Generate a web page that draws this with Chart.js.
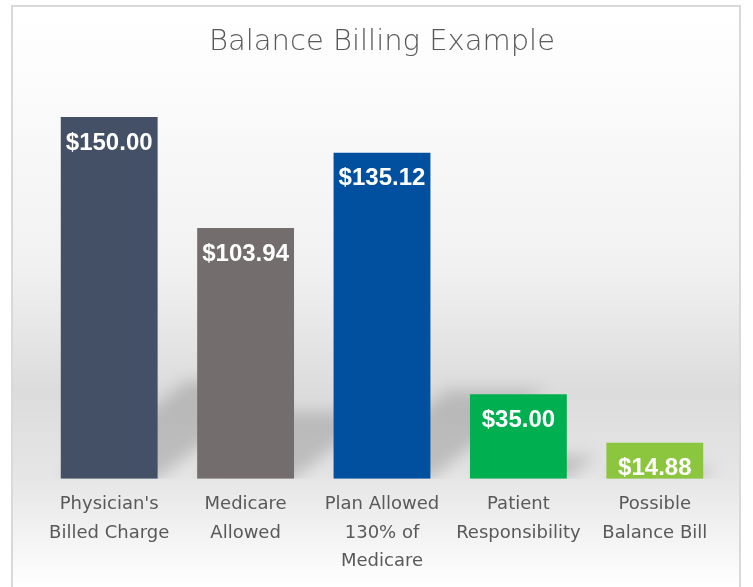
<!DOCTYPE html>
<html>
<head>
<meta charset="utf-8">
<script src="https://cdn.jsdelivr.net/npm/chart.js@4/dist/chart.umd.min.js"></script>
<style>
  html, body { margin: 0; padding: 0; background: #fff; }
  #wrap { width: 753px; height: 587px; }
</style>
</head>
<body>
<div id="wrap"><canvas id="billingChart" width="753" height="587"></canvas></div>
<script>
// chart data
var categories = [
  ["Physician's", "Billed Charge"],
  ["Medicare", "Allowed"],
  ["Plan Allowed", "130% of", "Medicare"],
  ["Patient", "Responsibility"],
  ["Possible", "Balance Bill"]
];
var amounts = [150.00, 103.94, 135.12, 35.00, 14.88];
var barColors = ['#435066', '#736e6d', '#00509f', '#00b050', '#8cc63f'];

// background panel with the soft grey "floor" and frame
var panelBg = {
  id: 'panelBg',
  beforeDraw: function (chart) {
    var ctx = chart.ctx;
    var base = chart.scales.y.getPixelForValue(0);
    ctx.save();
    var g = ctx.createLinearGradient(0, 6, 0, chart.height);
    g.addColorStop(0, '#ffffff');
    g.addColorStop(0.15, '#fbfbfb');
    g.addColorStop(0.45, '#f1f1f1');
    g.addColorStop((base - 90) / chart.height, '#dcdcdc');
    g.addColorStop(base / chart.height, '#e6e6e6');
    g.addColorStop(1, '#ffffff');
    ctx.fillStyle = g;
    ctx.fillRect(12, 6, 728, chart.height);
    ctx.strokeStyle = '#d9d9d9';
    ctx.lineWidth = 2;
    ctx.strokeRect(12, 6, 728, chart.height + 10);
    ctx.restore();
  },
  beforeDatasetsDraw: function (chart) {
    // cast shadows behind the bars
    var ctx = chart.ctx;
    var base = chart.scales.y.getPixelForValue(0);
    ctx.save();
    ctx.beginPath();
    ctx.rect(0, 0, chart.width, base);
    ctx.clip();
    ctx.filter = 'blur(8px)';
    ctx.fillStyle = 'rgba(100,100,100,0.3)';
    chart.getDatasetMeta(0).data.forEach(function (bar) {
      var h = base - bar.y;
      var x1 = bar.x - bar.width / 2, x2 = bar.x + bar.width / 2;
      ctx.beginPath();
      ctx.moveTo(x1, base);
      ctx.lineTo(x2, base);
      ctx.lineTo(x2 + h * 0.35, base - h * 0.27);
      ctx.lineTo(x1 + h * 0.35, base - h * 0.27);
      ctx.closePath();
      ctx.fill();
    });
    ctx.restore();
  },
  afterDatasetsDraw: function (chart) {
    var ctx = chart.ctx;
    ctx.save();
    ctx.fillStyle = '#ffffff';
    ctx.font = 'bold 24px "Liberation Sans", Arial, sans-serif';
    ctx.textAlign = 'center';
    ctx.textBaseline = 'middle';
    chart.getDatasetMeta(0).data.forEach(function (bar, i) {
      ctx.fillText('$' + amounts[i].toFixed(2), bar.x, bar.y + 26);
    });
    ctx.restore();
  }
};

new Chart(document.getElementById('billingChart'), {
  type: 'bar',
  data: {
    labels: categories,
    datasets: [{
      data: amounts,
      backgroundColor: barColors,
      borderWidth: 0,
      barPercentage: 0.71,
      categoryPercentage: 1.0
    }]
  },
  options: {
    responsive: false,
    animation: false,
    layout: { padding: { top: 10, left: 41, right: 30, bottom: 8 } },
    plugins: {
      legend: { display: false },
      tooltip: { enabled: false },
      title: {
        display: true,
        text: 'Balance Billing Example',
        color: '#595959',
        font: { family: '"DejaVu Sans", sans-serif', size: 29, weight: 300 },
        padding: { top: 15, bottom: 33 }
      }
    },
    scales: {
      y: { display: false, min: 0, max: 160 },
      x: {
        grid: { display: false },
        border: { display: false },
        ticks: {
          color: '#595959',
          padding: 4,
          maxRotation: 0,
          font: { family: '"DejaVu Sans", sans-serif', size: 18, lineHeight: 1.56 }
        }
      }
    }
  },
  plugins: [panelBg]
});
</script>
</body>
</html>
